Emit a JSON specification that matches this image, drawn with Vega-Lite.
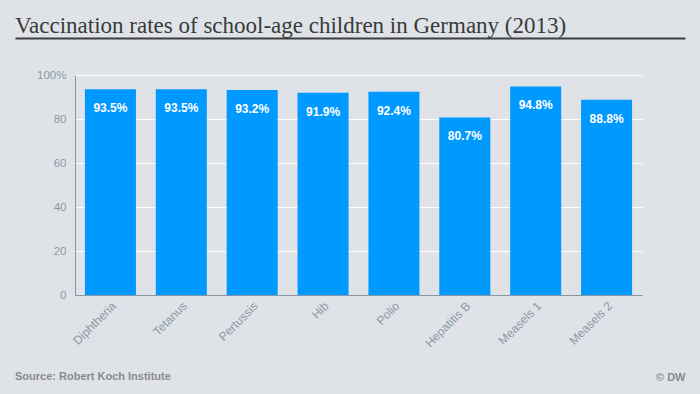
{
  "$schema": "https://vega.github.io/schema/vega-lite/v6.json",
  "background": "#dfe3e7",
  "padding": {"left": 15, "right": 15, "top": 15, "bottom": 12},
  "spacing": 15,
  "data": {"values": [
    {"vaccine": "Diphtheria", "rate": 0.935},
    {"vaccine": "Tetanus", "rate": 0.935},
    {"vaccine": "Pertussis", "rate": 0.932},
    {"vaccine": "Hib", "rate": 0.919},
    {"vaccine": "Polio", "rate": 0.924},
    {"vaccine": "Hepatitis B", "rate": 0.807},
    {"vaccine": "Measels 1", "rate": 0.948},
    {"vaccine": "Measels 2", "rate": 0.888}
  ]},
  "config": {"view": {"stroke": null}, "font": "Liberation Sans"},
  "vconcat": [
    {
      "width": 610,
      "height": 16,
      "title": {"text": "Vaccination rates of school-age children in Germany (2013)", "anchor": "start", "frame": "group", "dx": -60, "font": "Liberation Serif", "fontSize": 23, "fontWeight": "normal", "color": "#3a3a3a", "offset": 0},
      "mark": {"type": "text"},
      "encoding": {
        "text": {"value": ""},
        "x": {"field": "rate", "type": "quantitative", "scale": {"range": [-60, 610]},
              "axis": {"orient": "top", "title": null, "labels": false, "ticks": false, "grid": false, "domain": true, "domainColor": "#3d3d3d", "domainWidth": 2}}
      }
    },
    {
      "width": 567,
      "height": 220,
      "encoding": {
        "x": {"field": "vaccine", "type": "nominal", "sort": null,
              "scale": {"paddingInner": 0.28, "paddingOuter": 0.14},
              "axis": {"title": null, "labelAngle": -45, "labelFontSize": 12, "labelColor": "#8a99a8", "domainColor": "#8796a4", "ticks": false, "labelPadding": 5}},
        "y": {"field": "rate", "type": "quantitative", "scale": {"domain": [0, 1]},
              "axis": {"title": null, "minExtent": 60, "values": [0, 0.2, 0.4, 0.6, 0.8, 1], "labelExpr": "datum.value == 1 ? '100%' : format(datum.value * 100, 'd')", "labelFontSize": 11.5, "labelColor": "#8a99a8", "ticks": false, "labelPadding": 9, "domainColor": "#8796a4", "gridColor": "#ffffff", "gridOpacity": 1, "gridWidth": 1.2}}
      },
      "layer": [
        {"mark": {"type": "bar", "color": "#0099ff"}},
        {"mark": {"type": "text", "color": "#ffffff", "fontWeight": "bold", "fontSize": 12, "baseline": "middle", "dy": 19},
         "encoding": {"text": {"field": "rate", "type": "quantitative", "format": ".1%"}}}
      ]
    },
    {
      "width": 610,
      "height": 1,
      "title": {"text": "Source: Robert Koch Institute", "orient": "bottom", "anchor": "start", "frame": "group", "dx": -60, "fontSize": 11, "fontWeight": "bold", "color": "#8a8a8a", "font": "Liberation Sans", "baseline": "top", "offset": -11},
      "mark": {"type": "text"},
      "encoding": {
        "text": {"value": ""},
        "x": {"field": "rate", "type": "quantitative", "scale": {"range": [-60, 610]},
              "axis": {"title": "© DW", "titleAnchor": "end", "titleAlign": "right", "titleFontSize": 11, "titleFontWeight": "bold", "titleColor": "#8a8a8a", "titleBaseline": "top", "titlePadding": 0, "labels": false, "ticks": false, "grid": false, "domain": true, "domainColor": "#dfe3e7", "domainWidth": 1}}
      }
    }
  ]
}
